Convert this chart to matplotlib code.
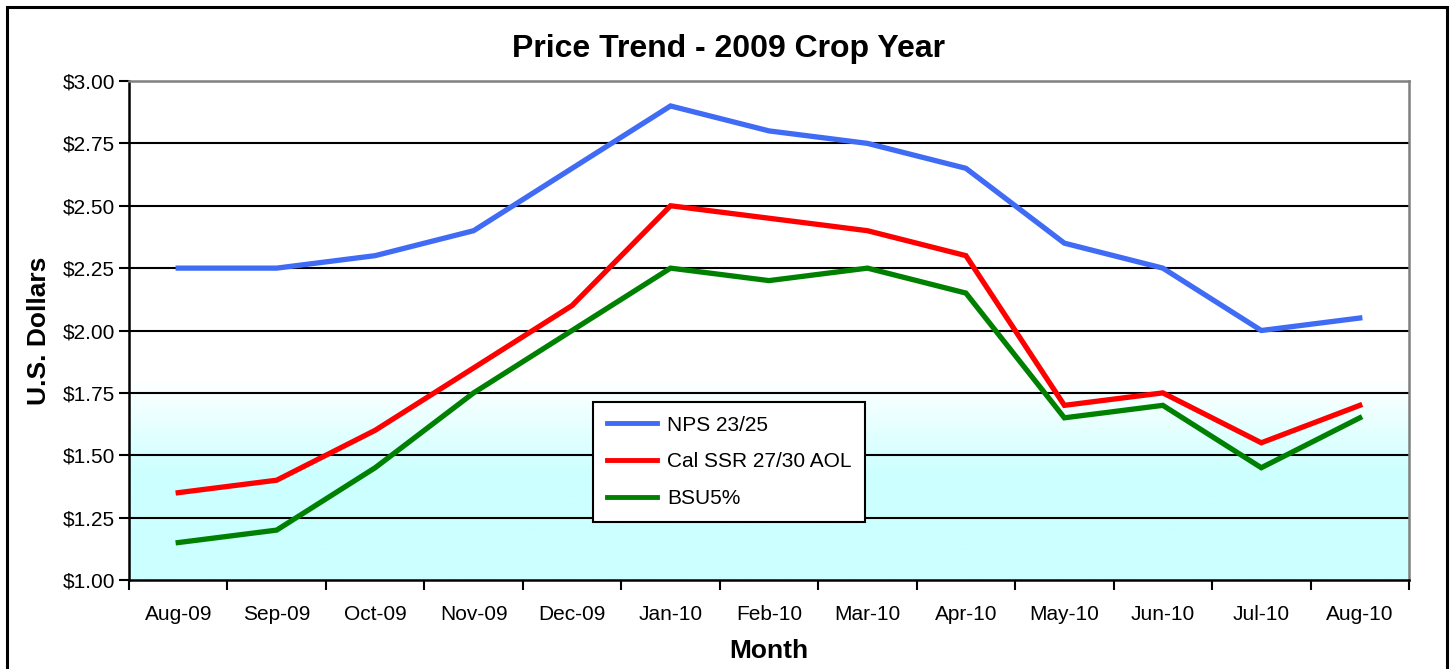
import numpy as np
import matplotlib
matplotlib.use("Agg")
import matplotlib.pyplot as plt
from matplotlib.patches import Rectangle
from matplotlib.ticker import FixedLocator, NullFormatter

months = ["Aug-09", "Sep-09", "Oct-09", "Nov-09", "Dec-09", "Jan-10", "Feb-10",
          "Mar-10", "Apr-10", "May-10", "Jun-10", "Jul-10", "Aug-10"]
nps = [2.25, 2.25, 2.30, 2.40, 2.65, 2.90, 2.80, 2.75, 2.65, 2.35, 2.25, 2.00, 2.05]
cal_ssr = [1.35, 1.40, 1.60, 1.85, 2.10, 2.50, 2.45, 2.40, 2.30, 1.70, 1.75, 1.55, 1.70]
bsu = [1.15, 1.20, 1.45, 1.75, 2.00, 2.25, 2.20, 2.25, 2.15, 1.65, 1.70, 1.45, 1.65]
series_names = ["NPS 23/25", "Cal SSR 27/30 AOL", "BSU5%"]
colors = ["#3F6BF5", "#FF0000", "#008000"]
yticks = [1.00, 1.25, 1.50, 1.75, 2.00, 2.25, 2.50, 2.75, 3.00]

plt.rcParams['font.family'] = ['Liberation Sans', 'DejaVu Sans']

fig = plt.figure(figsize=(14.53, 6.69), dpi=100)
ax = fig.add_axes([129/1453, 89/669, 1280/1453, 499/669])

n = len(months)
x = np.arange(n)
ax.set_xlim(-0.5, n - 0.5)
ax.set_ylim(1.0, 3.0)

# gradient background: white at top, cyan towards bottom
yy = np.linspace(3.0, 1.0, 400)
t = np.clip((1.80 - yy) / (1.80 - 1.42), 0, 1)
top = np.array([1.0, 1.0, 1.0])
bot = np.array([0.80, 1.0, 1.0])
img = top[None, :] * (1 - t[:, None]) + bot[None, :] * t[:, None]
img = np.repeat(img[:, None, :], 2, axis=1)
ax.imshow(img, extent=[-0.5, n - 0.5, 1.0, 3.0], aspect='auto', zorder=0)

for yv in yticks[1:-1]:
    ax.axhline(yv, color='black', lw=1.5, zorder=1)

for vals, name, c in zip([nps, cal_ssr, bsu], series_names, colors):
    ax.plot(x, vals, color=c, lw=3.8, label=name, zorder=3, solid_joinstyle='miter')

ax.set_yticks(yticks)
ax.set_yticklabels([f"${v:.2f}" for v in yticks], fontsize=15)
ax.xaxis.set_major_locator(FixedLocator(np.arange(n + 1) - 0.5))
ax.xaxis.set_major_formatter(NullFormatter())
ax.set_xticks(x, minor=True)
ax.set_xticklabels(months, minor=True, fontsize=15)
ax.tick_params(axis='x', which='minor', length=0, pad=18)
ax.tick_params(axis='x', which='major', length=7, width=1.5, direction='out')
ax.tick_params(axis='y', length=7, width=1.5, direction='out', pad=3)

for s in ['left', 'bottom']:
    ax.spines[s].set_color('black')
    ax.spines[s].set_linewidth(1.8)
for s in ['top', 'right']:
    ax.spines[s].set_color('#808080')
    ax.spines[s].set_linewidth(1.8)

ax.set_xlabel("Month", fontsize=19, fontweight='bold', labelpad=11)
ax.set_ylabel("U.S. Dollars", fontsize=19, fontweight='bold', labelpad=8)
fig.text(728/1453, 1 - 49/669, "Price Trend - 2009 Crop Year", fontsize=23,
         fontweight='bold', ha='center', va='center')

leg = ax.legend(loc='upper left', bbox_to_anchor=((593 - 129) / 1280, (580 - 402) / 499),
                fontsize=15, frameon=True, fancybox=False, edgecolor='black',
                framealpha=1, borderpad=0.65, labelspacing=0.85, handlelength=2.4,
                handletextpad=0.5, borderaxespad=0)
leg.get_frame().set_linewidth(1.5)
for h in leg.get_lines():
    h.set_linewidth(3.5)

fig.patches.append(Rectangle((7/1453, -0.05), 1440/1453, 1.05 - 7/669,
                             transform=fig.transFigure, fill=False,
                             edgecolor='black', lw=2.2, zorder=10))

fig.savefig("out.png", dpi=100)
